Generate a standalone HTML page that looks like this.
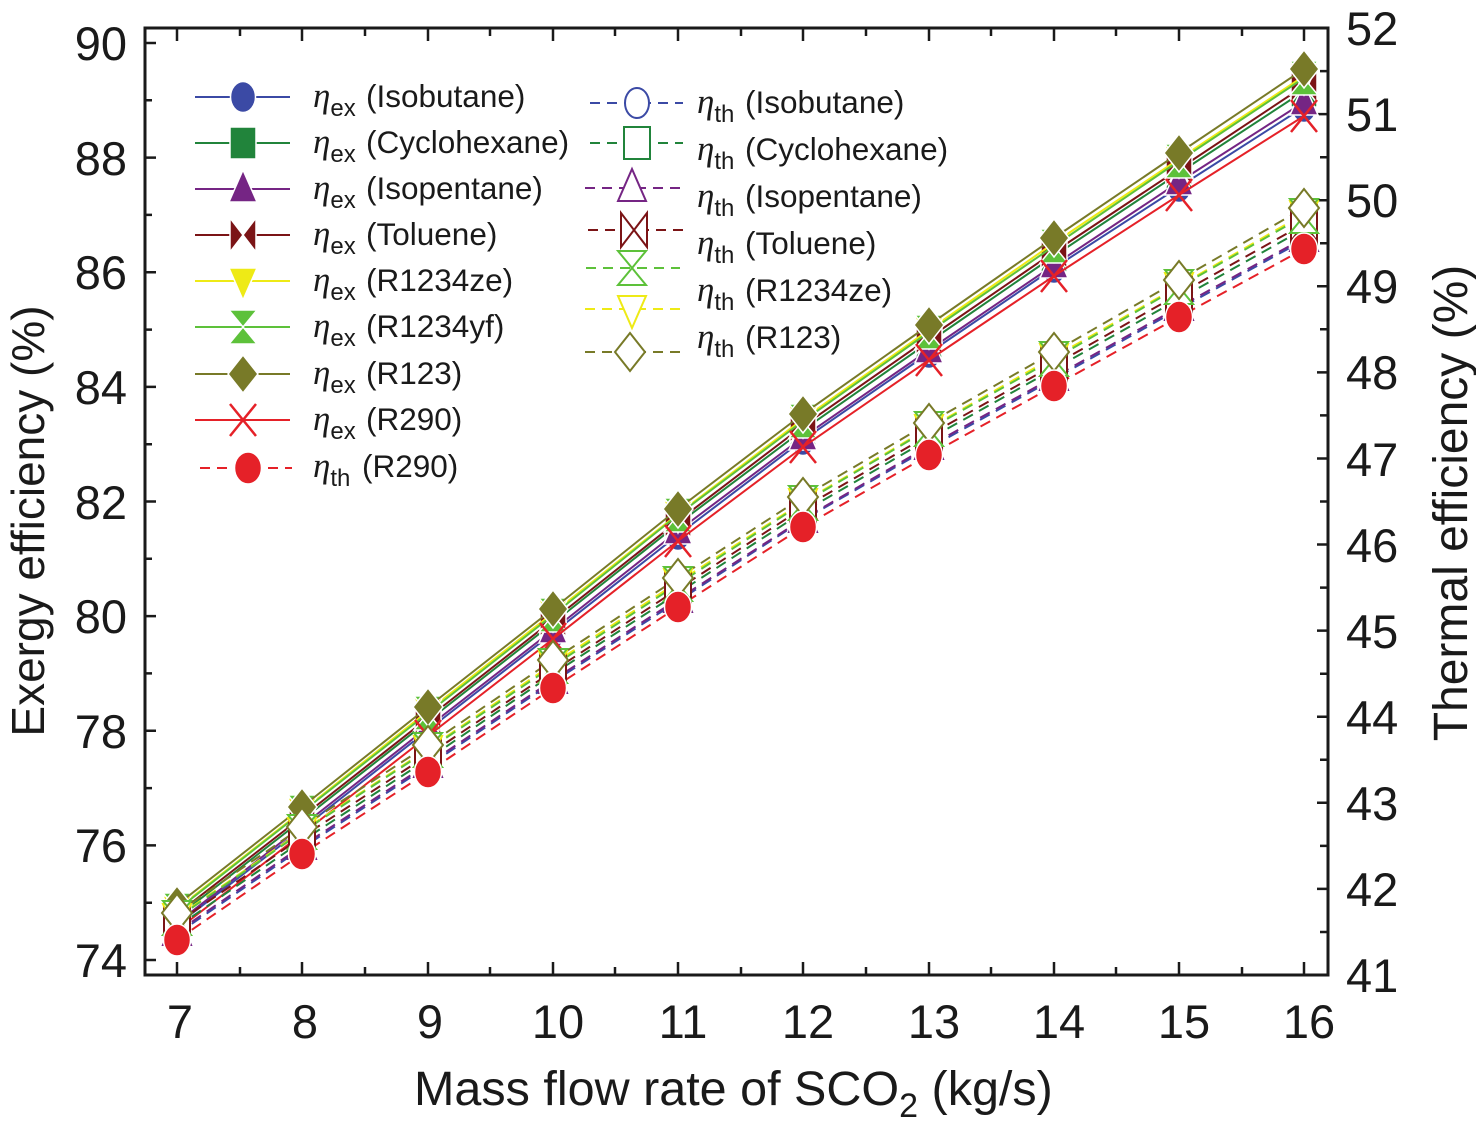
<!DOCTYPE html>
<html><head><meta charset="utf-8"><style>
html,body{margin:0;padding:0;background:#fff;}
svg{display:block;}
text{font-family:"Liberation Sans",Arial,sans-serif;fill:#1a1a1a;}
</style></head><body>
<svg width="1476" height="1139" viewBox="0 0 1476 1139" xmlns="http://www.w3.org/2000/svg">
<defs>
<ellipse id="fc-b" rx="12.5" ry="15.5" fill="#3b4aa5" stroke="#fff" stroke-width="1.5"/>
<rect id="fs-g" x="-13" y="-16" width="26" height="32" fill="#21843b" stroke="#fff" stroke-width="1.5"/>
<polygon id="ft-p" points="0,-19 14,13 -14,13" fill="#752584" stroke="#fff" stroke-width="1.5"/>
<polygon id="fb-r" points="-13,-17 13,17 13,-17 -13,17" fill="#7b1416" stroke="#fff" stroke-width="1.5"/>
<polygon id="fd-y" points="0,19 14,-13 -14,-13" fill="#eeea16" stroke="#fff" stroke-width="1.5"/>
<polygon id="fh-l" points="-14,-17 14,-17 -14,17 14,17" fill="#5dc13a" stroke="#fff" stroke-width="1.5"/>
<polygon id="fm-o" points="0,-19 15,0 0,19 -15,0" fill="#787a28" stroke="#fff" stroke-width="1.5"/>
<path id="fx-r" d="M-13,-16L13,16M13,-16L-13,16" stroke="#e52128" stroke-width="2.5" fill="none"/>
<ellipse id="fc-r" rx="13.5" ry="16" fill="#e52128" stroke="#fff" stroke-width="1.5"/>
<ellipse id="oc-b" rx="12" ry="15" fill="#fff" stroke="#3b4aa5" stroke-width="2"/>
<rect id="os-g" x="-13" y="-16" width="26" height="32" fill="#fff" stroke="#21843b" stroke-width="2"/>
<polygon id="ot-p" points="0,-19 14,13 -14,13" fill="#fff" stroke="#752584" stroke-width="2"/>
<polygon id="ob-r" points="-13,-17 13,17 13,-17 -13,17" fill="#fff" stroke="#7b1416" stroke-width="2"/>
<polygon id="od-y" points="0,19 14,-13 -14,-13" fill="#fff" stroke="#eeea16" stroke-width="2"/>
<polygon id="oh-l" points="-14,-17 14,-17 -14,17 14,17" fill="#fff" stroke="#5dc13a" stroke-width="2"/>
<polygon id="om-o" points="0,-19 15,0 0,19 -15,0" fill="#fff" stroke="#787a28" stroke-width="2"/>
</defs>

<!-- ticks -->
<g stroke="#1a1a1a" stroke-width="2.5">
<path d="M177,975v-13M302,975v-13M428,975v-13M553,975v-13M678,975v-13M803,975v-13M929,975v-13M1054,975v-13M1179,975v-13M1304,975v-13"/>
<path d="M240,975v-8M365,975v-8M490,975v-8M615,975v-8M741,975v-8M866,975v-8M991,975v-8M1116,975v-8M1242,975v-8"/>
<path d="M177,28v13M302,28v13M428,28v13M553,28v13M678,28v13M803,28v13M929,28v13M1054,28v13M1179,28v13M1304,28v13"/>
<path d="M240,28v8M365,28v8M490,28v8M615,28v8M741,28v8M866,28v8M991,28v8M1116,28v8M1242,28v8"/>
<path d="M145,960h11M145,845.4h11M145,730.8h11M145,616.1h11M145,501.5h11M145,386.9h11M145,272.3h11M145,157.6h11M145,43h11"/>
<path d="M145,902.7h7M145,788.1h7M145,673.4h7M145,558.8h7M145,444.2h7M145,329.6h7M145,214.9h7M145,100.3h7"/>
<path d="M1328,888.9h-11M1328,802.8h-11M1328,716.7h-11M1328,630.6h-11M1328,544.5h-11M1328,458.5h-11M1328,372.4h-11M1328,286.3h-11M1328,200.2h-11M1328,114.1h-11"/>
<path d="M1328,932h-8M1328,845.9h-8M1328,759.8h-8M1328,673.7h-8M1328,587.6h-8M1328,501.5h-8M1328,415.4h-8M1328,329.3h-8M1328,243.2h-8M1328,157.2h-8M1328,71.1h-8"/>
</g>
<rect x="145" y="28" width="1183" height="947" fill="none" stroke="#1a1a1a" stroke-width="3"/>

<!-- tick labels -->
<g font-size="47" text-anchor="end">
<text x="127" y="977">74</text><text x="127" y="862">76</text><text x="127" y="748">78</text><text x="127" y="633">80</text><text x="127" y="519">82</text><text x="127" y="404">84</text><text x="127" y="289">86</text><text x="127" y="175">88</text><text x="127" y="60">90</text>
</g>
<g font-size="47">
<text x="1346" y="992">41</text><text x="1346" y="906">42</text><text x="1346" y="820">43</text><text x="1346" y="734">44</text><text x="1346" y="648">45</text><text x="1346" y="562">46</text><text x="1346" y="476">47</text><text x="1346" y="389">48</text><text x="1346" y="303">49</text><text x="1346" y="217">50</text><text x="1346" y="131">51</text><text x="1346" y="45">52</text>
</g>
<g font-size="47" text-anchor="middle">
<text x="180" y="1038">7</text><text x="305" y="1038">8</text><text x="430" y="1038">9</text><text x="558" y="1038">10</text><text x="683" y="1038">11</text><text x="808" y="1038">12</text><text x="934" y="1038">13</text><text x="1059" y="1038">14</text><text x="1184" y="1038">15</text><text x="1309" y="1038">16</text>
</g>

<!-- axis titles -->
<text transform="translate(44,521) rotate(-90)" text-anchor="middle" font-size="46">Exergy efficiency (%)</text>
<text transform="translate(1467,503) rotate(-90)" text-anchor="middle" font-size="48">Thermal efficiency (%)</text>
<text x="414" y="1105" font-size="48.5">Mass flow rate of SCO<tspan font-size="34" dy="12">2</tspan><tspan dy="-12"> (kg/s)</tspan></text>

<!-- exergy series -->
<polyline fill="none" stroke-width="2" stroke="#3b4aa5" points="177,925 302,829 428,730 553,633 678,535 803,440 929,353 1054,268 1179,187 1304,107"/>
<g><use href="#fc-b" x="177" y="925"/><use href="#fc-b" x="302" y="829"/><use href="#fc-b" x="428" y="730"/><use href="#fc-b" x="553" y="633"/><use href="#fc-b" x="678" y="535"/><use href="#fc-b" x="803" y="440"/><use href="#fc-b" x="929" y="353"/><use href="#fc-b" x="1054" y="268"/><use href="#fc-b" x="1179" y="187"/><use href="#fc-b" x="1304" y="107"/></g>
<polyline fill="none" stroke-width="2" stroke="#21843b" points="177,917 302,820 428,721 553,623 678,524 803,430 929,342 1054,256 1179,173 1304,91"/>
<g><use href="#fs-g" x="177" y="917"/><use href="#fs-g" x="302" y="820"/><use href="#fs-g" x="428" y="721"/><use href="#fs-g" x="553" y="623"/><use href="#fs-g" x="678" y="524"/><use href="#fs-g" x="803" y="430"/><use href="#fs-g" x="929" y="342"/><use href="#fs-g" x="1054" y="256"/><use href="#fs-g" x="1179" y="173"/><use href="#fs-g" x="1304" y="91"/></g>
<polyline fill="none" stroke-width="2" stroke="#752584" points="177,923 302,826 428,727 553,630 678,531 803,437 929,350 1054,265 1179,182 1304,102"/>
<g><use href="#ft-p" x="177" y="923"/><use href="#ft-p" x="302" y="826"/><use href="#ft-p" x="428" y="727"/><use href="#ft-p" x="553" y="630"/><use href="#ft-p" x="678" y="531"/><use href="#ft-p" x="803" y="437"/><use href="#ft-p" x="929" y="350"/><use href="#ft-p" x="1054" y="265"/><use href="#ft-p" x="1179" y="182"/><use href="#ft-p" x="1304" y="102"/></g>
<polyline fill="none" stroke-width="2" stroke="#7b1416" points="177,914 302,817 428,718 553,620 678,521 803,426 929,338 1054,252 1179,169 1304,86"/>
<g><use href="#fb-r" x="177" y="914"/><use href="#fb-r" x="302" y="817"/><use href="#fb-r" x="428" y="718"/><use href="#fb-r" x="553" y="620"/><use href="#fb-r" x="678" y="521"/><use href="#fb-r" x="803" y="426"/><use href="#fb-r" x="929" y="338"/><use href="#fb-r" x="1054" y="252"/><use href="#fb-r" x="1179" y="169"/><use href="#fb-r" x="1304" y="86"/></g>
<polyline fill="none" stroke-width="2" stroke="#eeea16" points="177,909 302,811 428,711 553,613 678,514 803,419 929,330 1054,243 1179,159 1304,76"/>
<g><use href="#fd-y" x="177" y="909"/><use href="#fd-y" x="302" y="811"/><use href="#fd-y" x="428" y="711"/><use href="#fd-y" x="553" y="613"/><use href="#fd-y" x="678" y="514"/><use href="#fd-y" x="803" y="419"/><use href="#fd-y" x="929" y="330"/><use href="#fd-y" x="1054" y="243"/><use href="#fd-y" x="1179" y="159"/><use href="#fd-y" x="1304" y="76"/></g>
<polyline fill="none" stroke-width="2" stroke="#5dc13a" points="177,910 302,812 428,713 553,615 678,515 803,421 929,332 1054,246 1179,161 1304,78"/>
<g><use href="#fh-l" x="177" y="910"/><use href="#fh-l" x="302" y="812"/><use href="#fh-l" x="428" y="713"/><use href="#fh-l" x="553" y="615"/><use href="#fh-l" x="678" y="515"/><use href="#fh-l" x="803" y="421"/><use href="#fh-l" x="929" y="332"/><use href="#fh-l" x="1054" y="246"/><use href="#fh-l" x="1179" y="161"/><use href="#fh-l" x="1304" y="78"/></g>
<polyline fill="none" stroke-width="2" stroke="#787a28" points="177,905 302,807 428,707 553,609 678,509 803,414 929,325 1054,238 1179,153 1304,69"/>
<g><use href="#fm-o" x="177" y="905"/><use href="#fm-o" x="302" y="807"/><use href="#fm-o" x="428" y="707"/><use href="#fm-o" x="553" y="609"/><use href="#fm-o" x="678" y="509"/><use href="#fm-o" x="803" y="414"/><use href="#fm-o" x="929" y="325"/><use href="#fm-o" x="1054" y="238"/><use href="#fm-o" x="1179" y="153"/><use href="#fm-o" x="1304" y="69"/></g>
<polyline fill="none" stroke-width="2" stroke="#e52128" points="177,930 302,834 428,736 553,639 678,541 803,447 929,360 1054,276 1179,195 1304,116"/>
<g><use href="#fx-r" x="177" y="930"/><use href="#fx-r" x="302" y="834"/><use href="#fx-r" x="428" y="736"/><use href="#fx-r" x="553" y="639"/><use href="#fx-r" x="678" y="541"/><use href="#fx-r" x="803" y="447"/><use href="#fx-r" x="929" y="360"/><use href="#fx-r" x="1054" y="276"/><use href="#fx-r" x="1179" y="195"/><use href="#fx-r" x="1304" y="116"/></g>

<!-- thermal series -->
<g fill="none" stroke-width="2" stroke-dasharray="11,7">
<polyline stroke="#3b4aa5" points="177,934 302,848 428,766 553,682 678,601 803,520 929,448 1054,379 1179,309 1304,240"/>
<polyline stroke="#21843b" points="177,927 302,841 428,759 553,674 678,593 803,512 929,439 1054,369 1179,299 1304,229"/>
<polyline stroke="#752584" points="177,932 302,846 428,764 553,680 678,599 803,519 929,446 1054,377 1179,307 1304,238"/>
<polyline stroke="#7b1416" points="177,923 302,837 428,755 553,671 678,589 803,508 929,435 1054,365 1179,294 1304,224"/>
<polyline stroke="#eeea16" points="177,917 302,831 428,749 553,664 678,582 803,502 929,428 1054,357 1179,286 1304,214"/>
<polyline stroke="#5dc13a" points="177,918 302,832 428,750 553,666 678,584 803,503 929,429 1054,359 1179,287 1304,216"/>
<polyline stroke="#787a28" points="177,913 302,827 428,745 553,660 678,578 803,497 929,423 1054,352 1179,280 1304,208"/>
<polyline stroke="#e52128" points="177,940 302,854 428,772 553,688 678,607 803,527 929,455 1054,386 1179,317 1304,249"/>
</g>
<g><use href="#oc-b" x="177" y="934"/><use href="#oc-b" x="302" y="848"/><use href="#oc-b" x="428" y="766"/><use href="#oc-b" x="553" y="682"/><use href="#oc-b" x="678" y="601"/><use href="#oc-b" x="803" y="520"/><use href="#oc-b" x="929" y="448"/><use href="#oc-b" x="1054" y="379"/><use href="#oc-b" x="1179" y="309"/><use href="#oc-b" x="1304" y="240"/></g>
<g><use href="#os-g" x="177" y="927"/><use href="#os-g" x="302" y="841"/><use href="#os-g" x="428" y="759"/><use href="#os-g" x="553" y="674"/><use href="#os-g" x="678" y="593"/><use href="#os-g" x="803" y="512"/><use href="#os-g" x="929" y="439"/><use href="#os-g" x="1054" y="369"/><use href="#os-g" x="1179" y="299"/><use href="#os-g" x="1304" y="229"/></g>
<g><use href="#ot-p" x="177" y="932"/><use href="#ot-p" x="302" y="846"/><use href="#ot-p" x="428" y="764"/><use href="#ot-p" x="553" y="680"/><use href="#ot-p" x="678" y="599"/><use href="#ot-p" x="803" y="519"/><use href="#ot-p" x="929" y="446"/><use href="#ot-p" x="1054" y="377"/><use href="#ot-p" x="1179" y="307"/><use href="#ot-p" x="1304" y="238"/></g>
<g><use href="#ob-r" x="177" y="923"/><use href="#ob-r" x="302" y="837"/><use href="#ob-r" x="428" y="755"/><use href="#ob-r" x="553" y="671"/><use href="#ob-r" x="678" y="589"/><use href="#ob-r" x="803" y="508"/><use href="#ob-r" x="929" y="435"/><use href="#ob-r" x="1054" y="365"/><use href="#ob-r" x="1179" y="294"/><use href="#ob-r" x="1304" y="224"/></g>
<g><use href="#od-y" x="177" y="917"/><use href="#od-y" x="302" y="831"/><use href="#od-y" x="428" y="749"/><use href="#od-y" x="553" y="664"/><use href="#od-y" x="678" y="582"/><use href="#od-y" x="803" y="502"/><use href="#od-y" x="929" y="428"/><use href="#od-y" x="1054" y="357"/><use href="#od-y" x="1179" y="286"/><use href="#od-y" x="1304" y="214"/></g>
<g><use href="#oh-l" x="177" y="918"/><use href="#oh-l" x="302" y="832"/><use href="#oh-l" x="428" y="750"/><use href="#oh-l" x="553" y="666"/><use href="#oh-l" x="678" y="584"/><use href="#oh-l" x="803" y="503"/><use href="#oh-l" x="929" y="429"/><use href="#oh-l" x="1054" y="359"/><use href="#oh-l" x="1179" y="287"/><use href="#oh-l" x="1304" y="216"/></g>
<g><use href="#om-o" x="177" y="913"/><use href="#om-o" x="302" y="827"/><use href="#om-o" x="428" y="745"/><use href="#om-o" x="553" y="660"/><use href="#om-o" x="678" y="578"/><use href="#om-o" x="803" y="497"/><use href="#om-o" x="929" y="423"/><use href="#om-o" x="1054" y="352"/><use href="#om-o" x="1179" y="280"/><use href="#om-o" x="1304" y="208"/></g>
<g><use href="#fc-r" x="177" y="940"/><use href="#fc-r" x="302" y="854"/><use href="#fc-r" x="428" y="772"/><use href="#fc-r" x="553" y="688"/><use href="#fc-r" x="678" y="607"/><use href="#fc-r" x="803" y="527"/><use href="#fc-r" x="929" y="455"/><use href="#fc-r" x="1054" y="386"/><use href="#fc-r" x="1179" y="317"/><use href="#fc-r" x="1304" y="249"/></g>

<!-- legend column 1 -->
<g stroke-width="2" fill="none">
<line x1="195" x2="290" y1="97" y2="97" stroke="#3b4aa5"/>
<line x1="195" x2="290" y1="143" y2="143" stroke="#21843b"/>
<line x1="195" x2="290" y1="189" y2="189" stroke="#752584"/>
<line x1="195" x2="290" y1="235" y2="235" stroke="#7b1416"/>
<line x1="195" x2="290" y1="281" y2="281" stroke="#eeea16"/>
<line x1="195" x2="290" y1="327" y2="327" stroke="#5dc13a"/>
<line x1="195" x2="290" y1="374" y2="374" stroke="#787a28"/>
<line x1="195" x2="290" y1="420" y2="420" stroke="#e52128"/>
<line x1="200" x2="292" y1="468" y2="468" stroke="#e52128" stroke-dasharray="10,7"/>
</g>
<use href="#fc-b" x="243" y="97"/><use href="#fs-g" x="243" y="143"/><use href="#ft-p" x="243" y="189"/><use href="#fb-r" x="243" y="235"/><use href="#fd-y" x="243" y="281"/><use href="#fh-l" x="243" y="327"/><use href="#fm-o" x="243" y="374"/><use href="#fx-r" x="243" y="420"/><use href="#fc-r" x="248" y="468"/>
<g font-size="31.5">
<text x="313" y="107"><tspan font-family="Liberation Serif" font-style="italic" font-size="35">η</tspan><tspan font-size="24" dy="9">ex</tspan><tspan x="366" dy="-9">(Isobutane)</tspan></text>
<text x="313" y="153"><tspan font-family="Liberation Serif" font-style="italic" font-size="35">η</tspan><tspan font-size="24" dy="9">ex</tspan><tspan x="366" dy="-9">(Cyclohexane)</tspan></text>
<text x="313" y="199"><tspan font-family="Liberation Serif" font-style="italic" font-size="35">η</tspan><tspan font-size="24" dy="9">ex</tspan><tspan x="366" dy="-9">(Isopentane)</tspan></text>
<text x="313" y="245"><tspan font-family="Liberation Serif" font-style="italic" font-size="35">η</tspan><tspan font-size="24" dy="9">ex</tspan><tspan x="366" dy="-9">(Toluene)</tspan></text>
<text x="313" y="291"><tspan font-family="Liberation Serif" font-style="italic" font-size="35">η</tspan><tspan font-size="24" dy="9">ex</tspan><tspan x="366" dy="-9">(R1234ze)</tspan></text>
<text x="313" y="337"><tspan font-family="Liberation Serif" font-style="italic" font-size="35">η</tspan><tspan font-size="24" dy="9">ex</tspan><tspan x="366" dy="-9">(R1234yf)</tspan></text>
<text x="313" y="384"><tspan font-family="Liberation Serif" font-style="italic" font-size="35">η</tspan><tspan font-size="24" dy="9">ex</tspan><tspan x="366" dy="-9">(R123)</tspan></text>
<text x="313" y="430"><tspan font-family="Liberation Serif" font-style="italic" font-size="35">η</tspan><tspan font-size="24" dy="9">ex</tspan><tspan x="366" dy="-9">(R290)</tspan></text>
<text x="313" y="477"><tspan font-family="Liberation Serif" font-style="italic" font-size="35">η</tspan><tspan font-size="24" dy="9">th</tspan><tspan x="362" dy="-9">(R290)</tspan></text>
</g>

<!-- legend column 2 -->
<g stroke-width="2" fill="none" stroke-dasharray="10,7">
<line x1="590" x2="683" y1="103" y2="103" stroke="#3b4aa5"/>
<line x1="590" x2="683" y1="143" y2="143" stroke="#21843b"/>
<line x1="585" x2="680" y1="188" y2="188" stroke="#752584"/>
<line x1="588" x2="683" y1="230" y2="230" stroke="#7b1416"/>
<line x1="586" x2="680" y1="268" y2="268" stroke="#5dc13a"/>
<line x1="585" x2="680" y1="309" y2="309" stroke="#eeea16"/>
<line x1="585" x2="680" y1="352" y2="352" stroke="#787a28"/>
</g>
<use href="#oc-b" x="637" y="103"/><use href="#os-g" x="637" y="143"/><use href="#ot-p" x="632" y="188"/><use href="#ob-r" x="634" y="230"/><use href="#oh-l" x="632" y="268"/><use href="#od-y" x="632" y="309"/><use href="#om-o" x="630" y="352"/>
<g font-size="31.5">
<text x="697" y="113"><tspan font-family="Liberation Serif" font-style="italic" font-size="35">η</tspan><tspan font-size="24" dy="9">th</tspan><tspan x="745" dy="-9">(Isobutane)</tspan></text>
<text x="697" y="160"><tspan font-family="Liberation Serif" font-style="italic" font-size="35">η</tspan><tspan font-size="24" dy="9">th</tspan><tspan x="745" dy="-9">(Cyclohexane)</tspan></text>
<text x="697" y="207"><tspan font-family="Liberation Serif" font-style="italic" font-size="35">η</tspan><tspan font-size="24" dy="9">th</tspan><tspan x="745" dy="-9">(Isopentane)</tspan></text>
<text x="697" y="254"><tspan font-family="Liberation Serif" font-style="italic" font-size="35">η</tspan><tspan font-size="24" dy="9">th</tspan><tspan x="745" dy="-9">(Toluene)</tspan></text>
<text x="697" y="301"><tspan font-family="Liberation Serif" font-style="italic" font-size="35">η</tspan><tspan font-size="24" dy="9">th</tspan><tspan x="745" dy="-9">(R1234ze)</tspan></text>
<text x="697" y="348"><tspan font-family="Liberation Serif" font-style="italic" font-size="35">η</tspan><tspan font-size="24" dy="9">th</tspan><tspan x="745" dy="-9">(R123)</tspan></text>
</g>
</svg>
</body></html>
